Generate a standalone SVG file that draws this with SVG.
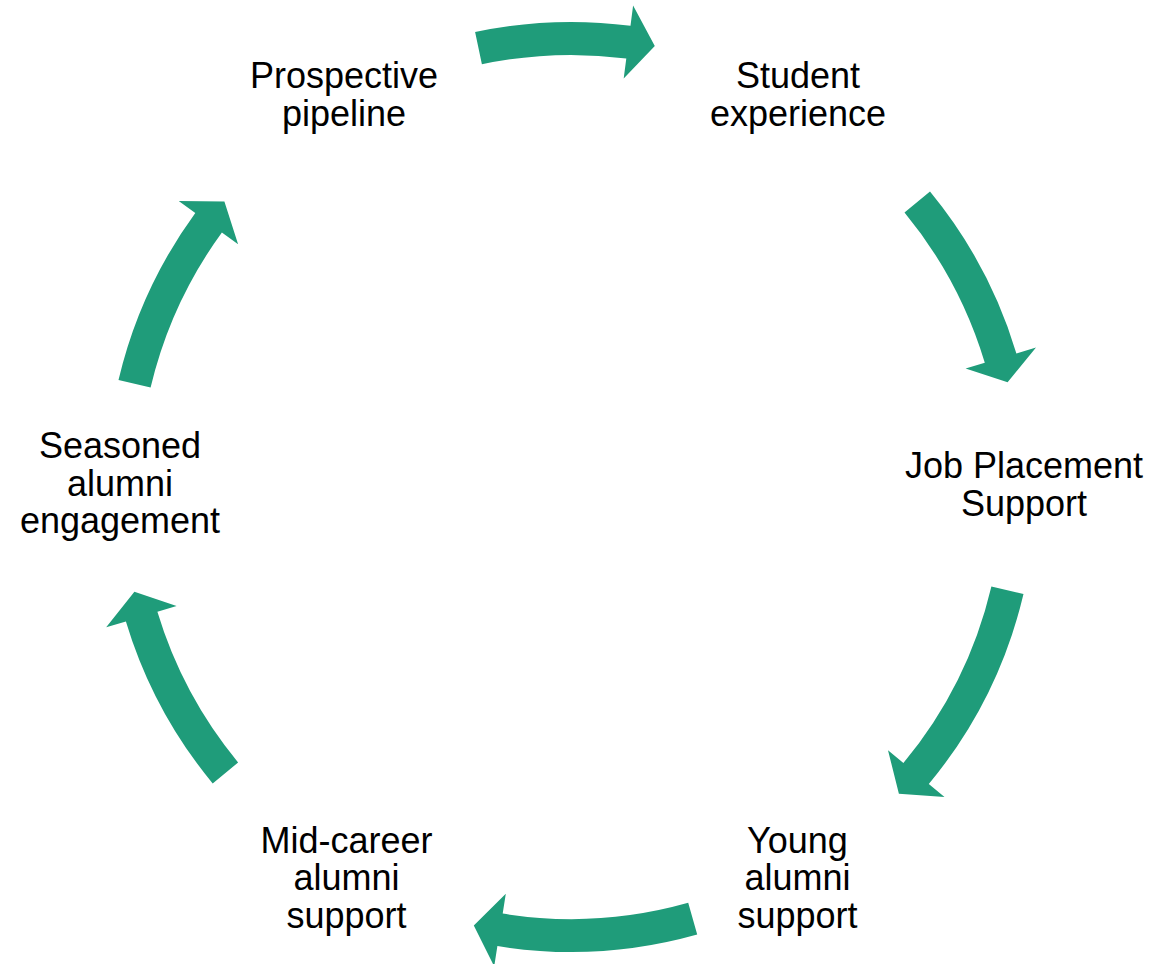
<svg xmlns="http://www.w3.org/2000/svg" width="1156" height="964" viewBox="0 0 1156 964">
<style>
.t{font-family:"Liberation Sans",Arial,sans-serif;font-size:36px;fill:#000;text-anchor:middle}
.a{fill:#1f9c7a;stroke:none}
</style>
<rect width="1156" height="964" fill="#ffffff"/>
<g id="connectors">
<path class="a" d="M475.1,32.0 A465,465 0 0 1 630.5,25.8 L633.1,5.5 L654.8,45.9 L623.7,78.4 L626.3,58.5 A432,432 0 0 0 481.9,64.3 Z"/>
<path class="a" d="M930.0,191.5 A465,465 0 0 1 1016.4,353.4 L1036.0,347.5 L1007.6,382.2 L965.6,368.6 L984.8,362.8 A432,432 0 0 0 904.5,212.5 Z"/>
<path class="a" d="M1023.5,594.0 A465,465 0 0 1 928.8,784.0 L944.5,797.1 L898.9,793.8 L888.0,750.2 L903.4,763.0 A432,432 0 0 0 991.4,586.4 Z"/>
<path class="a" d="M697.2,934.6 A465,465 0 0 1 497.4,946.1 L494.2,966.4 L473.8,925.4 L505.8,893.8 L502.7,913.6 A432,432 0 0 0 688.2,902.8 Z"/>
<path class="a" d="M212.7,783.4 A465,465 0 0 1 125.9,621.4 L106.2,627.3 L134.4,591.8 L176.6,606.1 L157.4,611.8 A432,432 0 0 0 238.1,762.4 Z"/>
<path class="a" d="M118.5,380.0 A465,465 0 0 1 195.3,213.0 L178.7,200.9 L224.4,201.6 L238.1,244.2 L221.9,232.5 A432,432 0 0 0 150.6,387.6 Z"/>
</g>
<g id="node-prospective"><text class="t" x="344" y="87.5">Prospective</text><text class="t" x="344" y="125.5">pipeline</text></g>
<g id="node-student"><text class="t" x="798" y="87.5">Student</text><text class="t" x="798" y="125.5">experience</text></g>
<g id="node-job"><text class="t" x="1024" y="478.3">Job Placement</text><text class="t" x="1024" y="516.3">Support</text></g>
<g id="node-young"><text class="t" x="797.5" y="852.7">Young</text><text class="t" x="797.5" y="890.2">alumni</text><text class="t" x="797.5" y="927.7">support</text></g>
<g id="node-midcareer"><text class="t" x="346.5" y="852.7">Mid-career</text><text class="t" x="346.5" y="890.2">alumni</text><text class="t" x="346.5" y="927.7">support</text></g>
<g id="node-seasoned"><text class="t" x="120" y="458.3">Seasoned</text><text class="t" x="120" y="495.8">alumni</text><text class="t" x="120" y="533.3">engagement</text></g>
</svg>
